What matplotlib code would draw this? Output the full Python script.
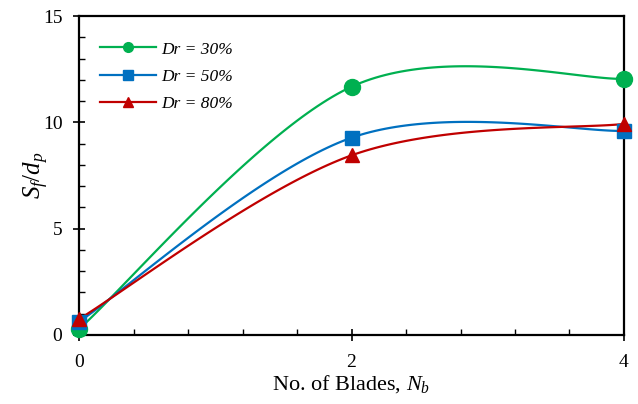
import numpy as np
import matplotlib
matplotlib.use("Agg")
import matplotlib.pyplot as plt
from matplotlib.ticker import MultipleLocator

plt.rcParams['font.family'] = ['Liberation Serif', 'DejaVu Serif']
plt.rcParams['mathtext.fontset'] = 'custom'
plt.rcParams['mathtext.rm'] = 'Liberation Serif'
plt.rcParams['mathtext.it'] = 'Liberation Serif:italic'

# data
blades = [0, 2, 4]
dr30 = [0.28, 11.68, 12.05]
dr50 = [0.62, 9.28, 9.60]
dr80 = [0.75, 8.45, 9.93]
labels = ["Dr = 30%", "Dr = 50%", "Dr = 80%"]
colors = ["#00B050", "#0070C0", "#C00000"]
markers = ["o", "s", "^"]
msizes = [11.5, 10.5, 10.5]


def excel_smooth(x, y, n=60):
    # bezier smoothing similar to excel "smoothed line"
    pts = np.column_stack([x, y]).astype(float)
    out = []
    for i in range(len(pts) - 1):
        p0 = pts[i - 1] if i > 0 else pts[i]
        p1 = pts[i]
        p2 = pts[i + 1]
        p3 = pts[i + 2] if i + 2 < len(pts) else pts[i + 1]
        c1 = p1 + (p2 - p0) / 6
        c2 = p2 - (p3 - p1) / 6
        t = np.linspace(0, 1, n)[:, None]
        seg = ((1 - t) ** 3) * p1 + 3 * ((1 - t) ** 2) * t * c1 + 3 * (1 - t) * t ** 2 * c2 + t ** 3 * p2
        out.append(seg)
    out = np.vstack(out)
    return out[:, 0], out[:, 1]


fig = plt.figure(figsize=(6.38, 4.04), dpi=100)
ax = fig.add_axes([0.124, 0.171, 0.854, 0.789])

for ys, lab, c, m, ms in zip([dr30, dr50, dr80], labels, colors, markers, msizes):
    sx, sy = excel_smooth(blades, ys)
    ax.plot(sx, sy, color=c, lw=1.6, clip_on=False)
    ax.plot(blades, ys, ls="none", marker=m, color=c, ms=ms, clip_on=False, zorder=3)
    ax.plot([], [], color=c, lw=1.6, marker=m, ms=7, label=lab)

ax.set_xlim(0, 4)
ax.set_ylim(0, 15)
ax.xaxis.set_major_locator(MultipleLocator(2))
ax.xaxis.set_minor_locator(MultipleLocator(0.4))
ax.yaxis.set_major_locator(MultipleLocator(5))
ax.yaxis.set_minor_locator(MultipleLocator(1))
ax.tick_params(which="major", direction="inout", length=8, width=1.2, labelsize=14)
ax.tick_params(axis="x", which="major", pad=10)
ax.tick_params(axis="y", which="major", pad=8)
ax.tick_params(which="minor", direction="in", length=4, width=1.0)
for s in ax.spines.values():
    s.set_linewidth(1.6)

ax.set_xlabel("No. of Blades, $N_b$", fontsize=16, labelpad=1)
ax.set_ylabel("$S_f/d_p$", fontsize=18, labelpad=-6)

leg = ax.legend(loc="upper left", bbox_to_anchor=(0.01, 0.97), frameon=False,
                handlelength=3.2, labelspacing=0.65, handletextpad=0.3,
                prop={"style": "italic", "size": 12.5})

fig.savefig("out.png", dpi=100)
